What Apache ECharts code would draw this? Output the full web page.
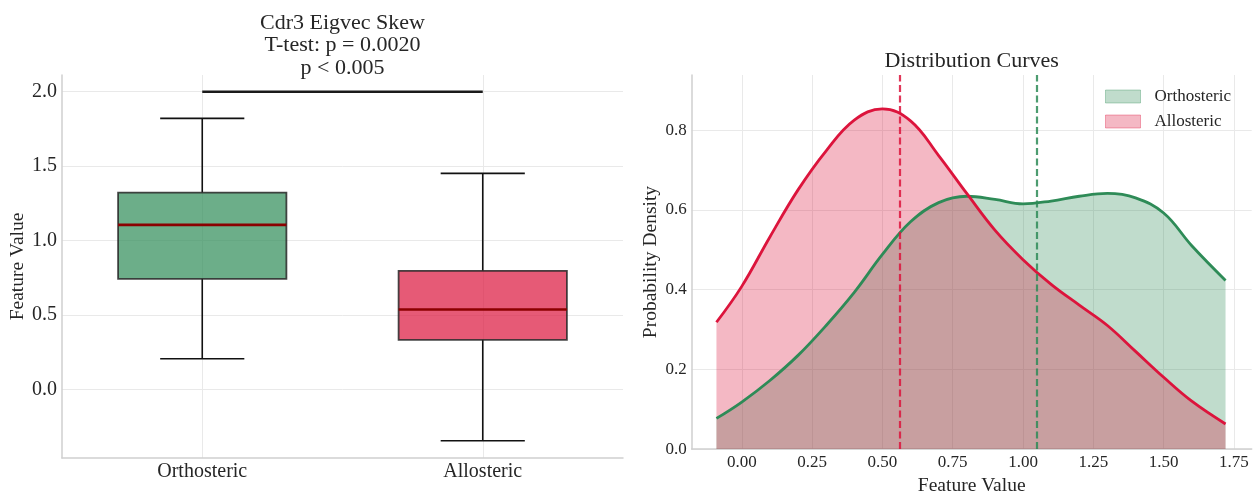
<!DOCTYPE html>
<html>
<head>
<meta charset="utf-8">
<script src="https://cdn.jsdelivr.net/npm/echarts@6/dist/echarts.min.js"></script>
<style>
html, body { margin: 0; padding: 0; background: #ffffff; }
#chart { width: 1260px; height: 501px; }
</style>
</head>
<body>
<div id="chart"></div>
<script>
// ---------------- data ----------------
const categories = ['Orthosteric', 'Allosteric'];
const categoryPositions = [1, 2];
const boxMin    = [0.208, -0.342];
const boxQ1     = [0.744, 0.335];
const boxMedian = [1.106, 0.538];
const boxQ3     = [1.323, 0.798];
const boxMax    = [1.821, 1.452];
const sigBarY   = [2.0, 2.0];
const boxYTicks = [0.0, 0.5, 1.0, 1.5, 2.0];

const densityX     = [-0.09, 0.0, 0.1, 0.2, 0.3, 0.4, 0.5, 0.6, 0.7, 0.8, 0.9, 1.0, 1.1, 1.2, 1.3, 1.4, 1.5, 1.6, 1.72];
const orthoDensity = [0.077, 0.118, 0.172, 0.235, 0.310, 0.393, 0.488, 0.570, 0.618, 0.634, 0.626, 0.615, 0.622, 0.634, 0.641, 0.630, 0.592, 0.510, 0.423];
const alloDensity  = [0.318, 0.408, 0.532, 0.650, 0.748, 0.825, 0.853, 0.823, 0.736, 0.641, 0.549, 0.475, 0.413, 0.361, 0.310, 0.245, 0.180, 0.120, 0.063];
const groupMeans   = [1.050, 0.564];
const densityXTicks = [0.0, 0.25, 0.5, 0.75, 1.0, 1.25, 1.5, 1.75];
const densityYTicks = [0.0, 0.2, 0.4, 0.6, 0.8];

// ---------------- style ----------------
const FONT = "'Liberation Serif', 'DejaVu Serif', serif";
const TXT = '#262626';
const GRID_C = '#e9e9e9';
const AXIS_C = '#cfcfcf';
const GREEN = '#2e8b57';
const RED = '#dc143c';
const boxFill = ['rgba(46,139,87,0.7)', 'rgba(220,20,60,0.7)'];
const BOX_W = 0.6, CAP_W = 0.3;

const boxData = categories.map((c, i) => [categoryPositions[i], boxMin[i], boxQ1[i], boxMedian[i], boxQ3[i], boxMax[i]]);

function renderBox(params, api) {
  const i = params.dataIndex;
  const x = api.value(0);
  const pMax = api.coord([x, api.value(5)]);
  const pQ3 = api.coord([x, api.value(4)]);
  const pMed = api.coord([x, api.value(3)]);
  const pQ1 = api.coord([x, api.value(2)]);
  const pMin = api.coord([x, api.value(1)]);
  const w = api.size([BOX_W, 0])[0];
  const cw = api.size([CAP_W, 0])[0];
  const cx = pQ1[0];
  const wStyle = { stroke: '#111111', lineWidth: 1.6, fill: null };
  return {
    type: 'group',
    children: [
      { type: 'line', shape: { x1: cx, y1: pMax[1], x2: cx, y2: pQ3[1] }, style: wStyle },
      { type: 'line', shape: { x1: cx, y1: pQ1[1], x2: cx, y2: pMin[1] }, style: wStyle },
      { type: 'line', shape: { x1: cx - cw / 2, y1: pMax[1], x2: cx + cw / 2, y2: pMax[1] }, style: wStyle },
      { type: 'line', shape: { x1: cx - cw / 2, y1: pMin[1], x2: cx + cw / 2, y2: pMin[1] }, style: wStyle },
      { type: 'rect', shape: { x: cx - w / 2, y: pQ3[1], width: w, height: pQ1[1] - pQ3[1] },
        style: { fill: boxFill[i], stroke: 'rgba(40,40,40,0.85)', lineWidth: 1.8 } },
      { type: 'line', shape: { x1: cx - w / 2, y1: pMed[1], x2: cx + w / 2, y2: pMed[1] },
        style: { stroke: '#8b0000', lineWidth: 2.6, fill: null } }
    ]
  };
}

const chart = echarts.init(document.getElementById('chart'), null, { renderer: 'canvas' });

const axisCommon = {
  axisLine: { show: true, onZero: false, lineStyle: { color: AXIS_C, width: 1.5 } },
  splitLine: { show: true, lineStyle: { color: GRID_C, width: 1 } },
  nameTextStyle: { fontFamily: FONT, fontSize: 19.5, color: TXT },
  nameLocation: 'middle'
};

const option = {
  backgroundColor: '#ffffff',
  animation: false,
  textStyle: { fontFamily: FONT },
  grid: [
    { left: 62, top: 75, width: 561, height: 383, containLabel: false },
    { left: 691.7, top: 75, width: 560, height: 383.3, containLabel: false }
  ],
  xAxis: [
    Object.assign({}, axisCommon, {
      gridIndex: 0, type: 'value', min: 0.5, max: 2.5,
      axisTick: { show: false, customValues: categoryPositions },
      axisLabel: { customValues: categoryPositions, margin: 4, fontFamily: FONT, fontSize: 20, color: TXT,
        formatter: v => categories[Math.round(v) - 1] }
    }),
    Object.assign({}, axisCommon, {
      gridIndex: 1, type: 'value', min: -0.178, max: 1.813,
      name: 'Feature Value', nameGap: 21,
      axisTick: { show: false, customValues: densityXTicks },
      axisLabel: { customValues: densityXTicks, margin: 5, fontFamily: FONT, fontSize: 17, color: TXT,
        formatter: v => v.toFixed(2) }
    })
  ],
  yAxis: [
    Object.assign({}, axisCommon, {
      gridIndex: 0, type: 'value', min: -0.458, max: 2.112,
      name: 'Feature Value', nameGap: 31,
      axisTick: { show: false, customValues: boxYTicks },
      axisLabel: { customValues: boxYTicks, margin: 5, fontFamily: FONT, fontSize: 20, color: TXT,
        formatter: v => v.toFixed(1) }
    }),
    Object.assign({}, axisCommon, {
      gridIndex: 1, type: 'value', min: 0, max: 0.938,
      name: 'Probability Density', nameGap: 31,
      axisTick: { show: false, customValues: densityYTicks },
      axisLabel: { customValues: densityYTicks, margin: 5, fontFamily: FONT, fontSize: 17, color: TXT,
        formatter: v => v.toFixed(1) }
    })
  ],
  legend: {
    left: 1105, top: 88, orient: 'vertical', padding: 0,
    itemWidth: 35, itemHeight: 13, itemGap: 8,
    icon: 'rect',
    textStyle: { fontFamily: FONT, fontSize: 17, color: TXT, padding: [0, 0, 0, 9] },
    data: [
      { name: 'Orthosteric', icon: 'rect', itemStyle: { color: 'rgba(46,139,87,0.3)', borderColor: 'rgba(46,139,87,0.35)', borderWidth: 1 } },
      { name: 'Allosteric', icon: 'rect', itemStyle: { color: 'rgba(220,20,60,0.3)', borderColor: 'rgba(220,20,60,0.35)', borderWidth: 1 } }
    ]
  },
  graphic: [
    { type: 'text', x: 342.5, y: 23, style: { text: 'Cdr3 Eigvec Skew', font: "22px " + FONT, fill: TXT, textAlign: 'center', textVerticalAlign: 'middle' } },
    { type: 'text', x: 342.5, y: 45.5, style: { text: 'T-test: p = 0.0020', font: "22px " + FONT, fill: TXT, textAlign: 'center', textVerticalAlign: 'middle' } },
    { type: 'text', x: 342.5, y: 68, style: { text: 'p < 0.005', font: "22px " + FONT, fill: TXT, textAlign: 'center', textVerticalAlign: 'middle' } },
    { type: 'text', x: 971.7, y: 61.5, style: { text: 'Distribution Curves', font: "22px " + FONT, fill: TXT, textAlign: 'center', textVerticalAlign: 'middle' } }
  ],
  series: [
    {
      type: 'custom', name: 'boxes', xAxisIndex: 0, yAxisIndex: 0,
      renderItem: renderBox, data: boxData,
      encode: { x: 0, y: [1, 2, 3, 4, 5] }, silent: true, z: 3
    },
    {
      type: 'line', name: 'significance', xAxisIndex: 0, yAxisIndex: 0,
      data: categoryPositions.map((p, i) => [p, sigBarY[i]]),
      symbol: 'none', silent: true, z: 4,
      lineStyle: { color: '#1a1a1a', width: 2.6 }
    },
    {
      type: 'line', name: 'Orthosteric', xAxisIndex: 1, yAxisIndex: 1,
      data: densityX.map((x, i) => [x, orthoDensity[i]]),
      smooth: 0.4, symbol: 'none', silent: true,
      lineStyle: { color: GREEN, width: 2.8 },
      itemStyle: { color: GREEN },
      areaStyle: { color: 'rgba(46,139,87,0.3)', opacity: 1 },
      markLine: {
        silent: true, symbol: ['none', 'none'], label: { show: false },
        lineStyle: { color: 'rgba(46,139,87,0.85)', width: 2.2, type: [7, 3.5] },
        data: [{ xAxis: groupMeans[0] }]
      }
    },
    {
      type: 'line', name: 'Allosteric', xAxisIndex: 1, yAxisIndex: 1,
      data: densityX.map((x, i) => [x, alloDensity[i]]),
      smooth: 0.4, symbol: 'none', silent: true,
      lineStyle: { color: RED, width: 2.8 },
      itemStyle: { color: RED },
      areaStyle: { color: 'rgba(220,20,60,0.3)', opacity: 1 },
      markLine: {
        silent: true, symbol: ['none', 'none'], label: { show: false },
        lineStyle: { color: 'rgba(220,20,60,0.85)', width: 2.2, type: [7, 3.5] },
        data: [{ xAxis: groupMeans[1] }]
      }
    }
  ]
};

chart.setOption(option);
</script>
</body>
</html>
